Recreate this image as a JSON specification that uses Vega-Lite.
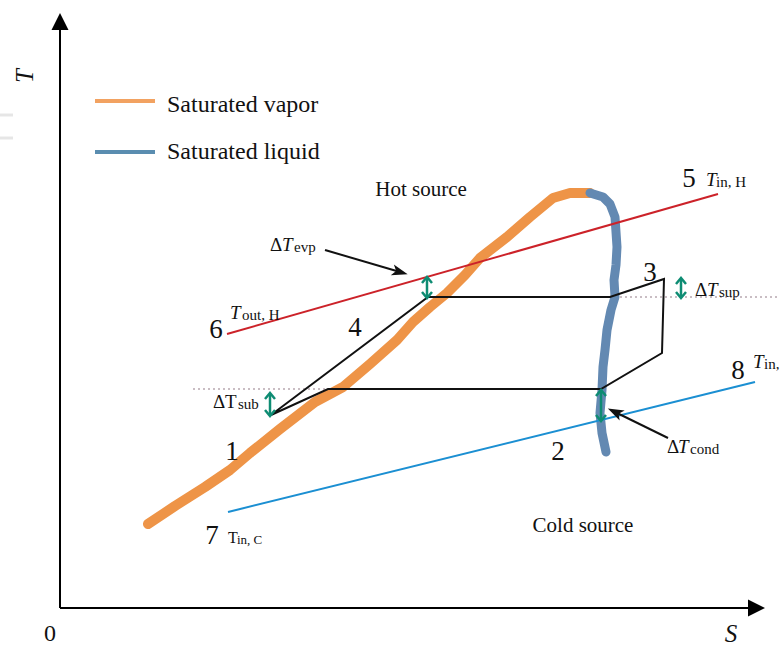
{
  "$schema": "https://vega.github.io/schema/vega-lite/v6.json",
  "width": 780,
  "height": 646,
  "padding": 0,
  "autosize": {"type": "none"},
  "background": "white",
  "config": {"view": {"stroke": null}, "font": "Liberation Serif"},
  "datasets": {
    "vapor": [
      {"o": 1, "S": 88, "T": 84}, {"o": 2, "S": 115, "T": 102}, {"o": 3, "S": 145, "T": 121},
      {"o": 4, "S": 170, "T": 138}, {"o": 5, "S": 190, "T": 155}, {"o": 6, "S": 220, "T": 179},
      {"o": 7, "S": 255, "T": 206}, {"o": 8, "S": 283, "T": 221}, {"o": 9, "S": 310, "T": 244},
      {"o": 10, "S": 337, "T": 268}, {"o": 11, "S": 353, "T": 286}, {"o": 12, "S": 370, "T": 301},
      {"o": 13, "S": 387, "T": 315}, {"o": 14, "S": 405, "T": 333}, {"o": 15, "S": 420, "T": 350},
      {"o": 16, "S": 447, "T": 371}, {"o": 17, "S": 470, "T": 391}, {"o": 18, "S": 493, "T": 410},
      {"o": 19, "S": 510, "T": 415}, {"o": 20, "S": 530, "T": 415}
    ],
    "liquid": [
      {"o": 1, "S": 530, "T": 415}, {"o": 2, "S": 543, "T": 411}, {"o": 3, "S": 550, "T": 404},
      {"o": 4, "S": 555, "T": 391}, {"o": 5, "S": 557, "T": 361}, {"o": 6, "S": 556, "T": 343},
      {"o": 7, "S": 554, "T": 328}, {"o": 8, "S": 555, "T": 311}, {"o": 9, "S": 551, "T": 298},
      {"o": 10, "S": 547, "T": 278}, {"o": 11, "S": 545, "T": 258}, {"o": 12, "S": 543, "T": 241},
      {"o": 13, "S": 542, "T": 218}, {"o": 14, "S": 540, "T": 195}, {"o": 15, "S": 542, "T": 175},
      {"o": 16, "S": 546, "T": 156}
    ],
    "cycle": [
      {"o": 1, "S": 211, "T": 193}, {"o": 2, "S": 368, "T": 311}, {"o": 3, "S": 550, "T": 311},
      {"o": 4, "S": 604, "T": 329}, {"o": 5, "S": 602, "T": 255}, {"o": 6, "S": 541, "T": 219},
      {"o": 7, "S": 268, "T": 219}, {"o": 8, "S": 211, "T": 193}
    ],
    "hot": [{"o": 1, "S": 167, "T": 274}, {"o": 2, "S": 658, "T": 414}],
    "cold": [{"o": 1, "S": 168, "T": 96}, {"o": 2, "S": 695, "T": 226}],
    "dotted": [
      {"id": "a", "o": 1, "S": 133, "T": 219}, {"id": "a", "o": 2, "S": 268, "T": 219},
      {"id": "b", "o": 1, "S": 550, "T": 311}, {"id": "b", "o": 2, "S": 717, "T": 311}
    ],
    "axes": [
      {"id": "y", "o": 1, "S": 0, "T": 0}, {"id": "y", "o": 2, "S": 0, "T": 580},
      {"id": "x", "o": 1, "S": 0, "T": 0}, {"id": "x", "o": 2, "S": 690, "T": 0}
    ],
    "pointers": [
      {"id": "e", "o": 1, "S": 265, "T": 358}, {"id": "e", "o": 2, "S": 340, "T": 336},
      {"id": "c", "o": 1, "S": 608, "T": 170}, {"id": "c", "o": 2, "S": 555, "T": 196}
    ],
    "green": [
      {"id": "e0", "o": 1, "S": 367, "T": 330}, {"id": "e0", "o": 2, "S": 367, "T": 311},
      {"id": "e1", "o": 1, "S": 362, "T": 325}, {"id": "e1", "o": 2, "S": 367, "T": 331}, {"id": "e1", "o": 3, "S": 372, "T": 325},
      {"id": "e2", "o": 1, "S": 362, "T": 316}, {"id": "e2", "o": 2, "S": 367, "T": 310}, {"id": "e2", "o": 3, "S": 372, "T": 316},
      {"id": "s0", "o": 1, "S": 210, "T": 214}, {"id": "s0", "o": 2, "S": 210, "T": 193},
      {"id": "s1", "o": 1, "S": 205, "T": 209}, {"id": "s1", "o": 2, "S": 210, "T": 215}, {"id": "s1", "o": 3, "S": 215, "T": 209},
      {"id": "s2", "o": 1, "S": 205, "T": 198}, {"id": "s2", "o": 2, "S": 210, "T": 192}, {"id": "s2", "o": 3, "S": 215, "T": 198},
      {"id": "p0", "o": 1, "S": 621, "T": 329}, {"id": "p0", "o": 2, "S": 621, "T": 311},
      {"id": "p1", "o": 1, "S": 616, "T": 324}, {"id": "p1", "o": 2, "S": 621, "T": 330}, {"id": "p1", "o": 3, "S": 626, "T": 324},
      {"id": "p2", "o": 1, "S": 616, "T": 316}, {"id": "p2", "o": 2, "S": 621, "T": 310}, {"id": "p2", "o": 3, "S": 626, "T": 316},
      {"id": "c0", "o": 1, "S": 541, "T": 217}, {"id": "c0", "o": 2, "S": 541, "T": 188},
      {"id": "c1", "o": 1, "S": 536, "T": 212}, {"id": "c1", "o": 2, "S": 541, "T": 218}, {"id": "c1", "o": 3, "S": 546, "T": 212},
      {"id": "c2", "o": 1, "S": 536, "T": 193}, {"id": "c2", "o": 2, "S": 541, "T": 187}, {"id": "c2", "o": 3, "S": 546, "T": 193}
    ],
    "legendVapor": [{"o": 1, "S": 35, "T": 507}, {"o": 2, "S": 95, "T": 507}],
    "legendLiquid": [{"o": 1, "S": 35, "T": 456}, {"o": 2, "S": 95, "T": 456}],
    "ghost": [
      {"id": "1", "o": 1, "S": -60, "T": 493}, {"id": "1", "o": 2, "S": -47, "T": 493},
      {"id": "2", "o": 1, "S": -60, "T": 470}, {"id": "2", "o": 2, "S": -47, "T": 470}
    ],
    "nums": [
      {"label": "1", "S": 172, "T": 156}, {"label": "2", "S": 498, "T": 156},
      {"label": "3", "S": 590, "T": 335}, {"label": "4", "S": 295, "T": 280},
      {"label": "5", "S": 629, "T": 429}, {"label": "6", "S": 156, "T": 278},
      {"label": "7", "S": 152, "T": 72}, {"label": "8", "S": 678, "T": 237}
    ],
    "legendText": [
      {"label": "Saturated vapor", "S": 107, "T": 503},
      {"label": "Saturated liquid", "S": 107, "T": 456}
    ],
    "sources": [
      {"label": "Hot source", "S": 361, "T": 418},
      {"label": "Cold source", "S": 523, "T": 82}
    ],
    "upright": [
      {"label": "Δ", "S": 210, "T": 363}, {"label": "Δ", "S": 153, "T": 206},
      {"label": "T", "S": 165, "T": 206}, {"label": "Δ", "S": 635, "T": 318},
      {"label": "Δ", "S": 607, "T": 161}
    ],
    "italic": [
      {"label": "T", "S": 222, "T": 363}, {"label": "T", "S": 647, "T": 318},
      {"label": "T", "S": 618, "T": 161}, {"label": "T", "S": 646, "T": 428},
      {"label": "T", "S": 170, "T": 295}, {"label": "T", "S": 693, "T": 246}
    ],
    "subs": [
      {"label": "evp", "S": 234, "T": 361}, {"label": "sub", "S": 178, "T": 204},
      {"label": "sup", "S": 659, "T": 316}, {"label": "cond", "S": 630, "T": 159},
      {"label": "in, H", "S": 656, "T": 426}, {"label": "out, H", "S": 182, "T": 293},
      {"label": "in,", "S": 704, "T": 244}
    ],
    "tinc": [{"label": "T", "S": 168, "T": 70}],
    "tincSub": [{"label": "in, C", "S": 177, "T": 68}],
    "zero": [{"label": "0", "S": -10, "T": -26}],
    "sLabel": [{"label": "S", "S": 671, "T": -26}],
    "tLabel": [{"label": "T", "S": -35, "T": 532}]
  },
  "encoding": {
    "x": {"field": "S", "type": "quantitative", "scale": {"domain": [-60, 720], "nice": false, "zero": false}, "axis": null},
    "y": {"field": "T", "type": "quantitative", "scale": {"domain": [-38, 608], "nice": false, "zero": false}, "axis": null}
  },
  "layer": [
    {"data": {"name": "ghost"}, "mark": {"type": "line", "stroke": "#E6E6E6", "strokeWidth": 3}, "encoding": {"detail": {"field": "id"}, "order": {"field": "o"}}},
    {"data": {"name": "dotted"}, "mark": {"type": "line", "stroke": "#B8A8B0", "strokeWidth": 1.5, "strokeDash": [2, 3]}, "encoding": {"detail": {"field": "id"}, "order": {"field": "o"}}},
    {"data": {"name": "vapor"}, "mark": {"type": "line", "stroke": "#EE9447", "strokeWidth": 10, "strokeCap": "round", "strokeJoin": "round"}, "encoding": {"order": {"field": "o"}}},
    {"data": {"name": "liquid"}, "mark": {"type": "line", "stroke": "#6389B2", "strokeWidth": 9, "strokeCap": "round", "strokeJoin": "round"}, "encoding": {"order": {"field": "o"}}},
    {"data": {"name": "hot"}, "mark": {"type": "line", "stroke": "#CC2229", "strokeWidth": 2}, "encoding": {"order": {"field": "o"}}},
    {"data": {"name": "cold"}, "mark": {"type": "line", "stroke": "#1B8FD2", "strokeWidth": 2}, "encoding": {"order": {"field": "o"}}},
    {"data": {"name": "cycle"}, "mark": {"type": "line", "stroke": "#111111", "strokeWidth": 2, "strokeJoin": "miter"}, "encoding": {"order": {"field": "o"}}},
    {"data": {"name": "green"}, "mark": {"type": "line", "stroke": "#0E8C73", "strokeWidth": 2.5}, "encoding": {"detail": {"field": "id"}, "order": {"field": "o"}}},
    {"data": {"name": "pointers"}, "mark": {"type": "line", "stroke": "#111111", "strokeWidth": 2}, "encoding": {"detail": {"field": "id"}, "order": {"field": "o"}}},
    {"data": {"values": [{"S": 340, "T": 336}]}, "mark": {"type": "point", "shape": "M0,-1L0.7,1L0,0.5L-0.7,1Z", "size": 256, "filled": true, "color": "#111111", "opacity": 1, "angle": 106}},
    {"data": {"values": [{"S": 555, "T": 196}]}, "mark": {"type": "point", "shape": "M0,-1L0.7,1L0,0.5L-0.7,1Z", "size": 256, "filled": true, "color": "#111111", "opacity": 1, "angle": 296.6}},
    {"data": {"name": "axes"}, "mark": {"type": "line", "stroke": "#000000", "strokeWidth": 2}, "encoding": {"detail": {"field": "id"}, "order": {"field": "o"}}},
    {"data": {"values": [{"S": 0, "T": 586.5}]}, "mark": {"type": "point", "shape": "M0,-1L1,1L-1,1Z", "size": 289, "filled": true, "color": "#000000", "opacity": 1}},
    {"data": {"values": [{"S": 696.5, "T": 0}]}, "mark": {"type": "point", "shape": "M1,0L-1,1L-1,-1Z", "size": 289, "filled": true, "color": "#000000", "opacity": 1}},
    {"data": {"name": "legendVapor"}, "mark": {"type": "line", "stroke": "#F2A261", "strokeWidth": 4}, "encoding": {"order": {"field": "o"}}},
    {"data": {"name": "legendLiquid"}, "mark": {"type": "line", "stroke": "#5A8DB0", "strokeWidth": 4}, "encoding": {"order": {"field": "o"}}},
    {"data": {"name": "nums"}, "mark": {"type": "text", "font": "Liberation Serif", "fontSize": 27, "align": "center", "baseline": "middle", "color": "#111111"}, "encoding": {"text": {"field": "label"}}},
    {"data": {"name": "legendText"}, "mark": {"type": "text", "font": "Liberation Serif", "fontSize": 24, "align": "left", "baseline": "middle", "color": "#111111"}, "encoding": {"text": {"field": "label"}}},
    {"data": {"name": "sources"}, "mark": {"type": "text", "font": "Liberation Serif", "fontSize": 21, "align": "center", "baseline": "middle", "color": "#111111"}, "encoding": {"text": {"field": "label"}}},
    {"data": {"name": "upright"}, "mark": {"type": "text", "font": "Liberation Serif", "fontSize": 19, "align": "left", "baseline": "middle", "color": "#111111"}, "encoding": {"text": {"field": "label"}}},
    {"data": {"name": "italic"}, "mark": {"type": "text", "font": "Liberation Serif", "fontSize": 19, "fontStyle": "italic", "align": "left", "baseline": "middle", "color": "#111111"}, "encoding": {"text": {"field": "label"}}},
    {"data": {"name": "subs"}, "mark": {"type": "text", "font": "Liberation Serif", "fontSize": 15, "align": "left", "baseline": "middle", "color": "#111111"}, "encoding": {"text": {"field": "label"}}},
    {"data": {"name": "tinc"}, "mark": {"type": "text", "font": "Liberation Serif", "fontSize": 16, "align": "left", "baseline": "middle", "color": "#111111"}, "encoding": {"text": {"field": "label"}}},
    {"data": {"name": "tincSub"}, "mark": {"type": "text", "font": "Liberation Serif", "fontSize": 13, "align": "left", "baseline": "middle", "color": "#111111"}, "encoding": {"text": {"field": "label"}}},
    {"data": {"name": "zero"}, "mark": {"type": "text", "font": "Liberation Serif", "fontSize": 24, "align": "center", "baseline": "middle", "color": "#111111"}, "encoding": {"text": {"field": "label"}}},
    {"data": {"name": "sLabel"}, "mark": {"type": "text", "font": "Liberation Serif", "fontSize": 25, "fontStyle": "italic", "align": "center", "baseline": "middle", "color": "#111111"}, "encoding": {"text": {"field": "label"}}},
    {"data": {"name": "tLabel"}, "mark": {"type": "text", "font": "Liberation Serif", "fontSize": 25, "fontStyle": "italic", "align": "center", "baseline": "middle", "angle": 270, "color": "#111111"}, "encoding": {"text": {"field": "label"}}}
  ]
}
